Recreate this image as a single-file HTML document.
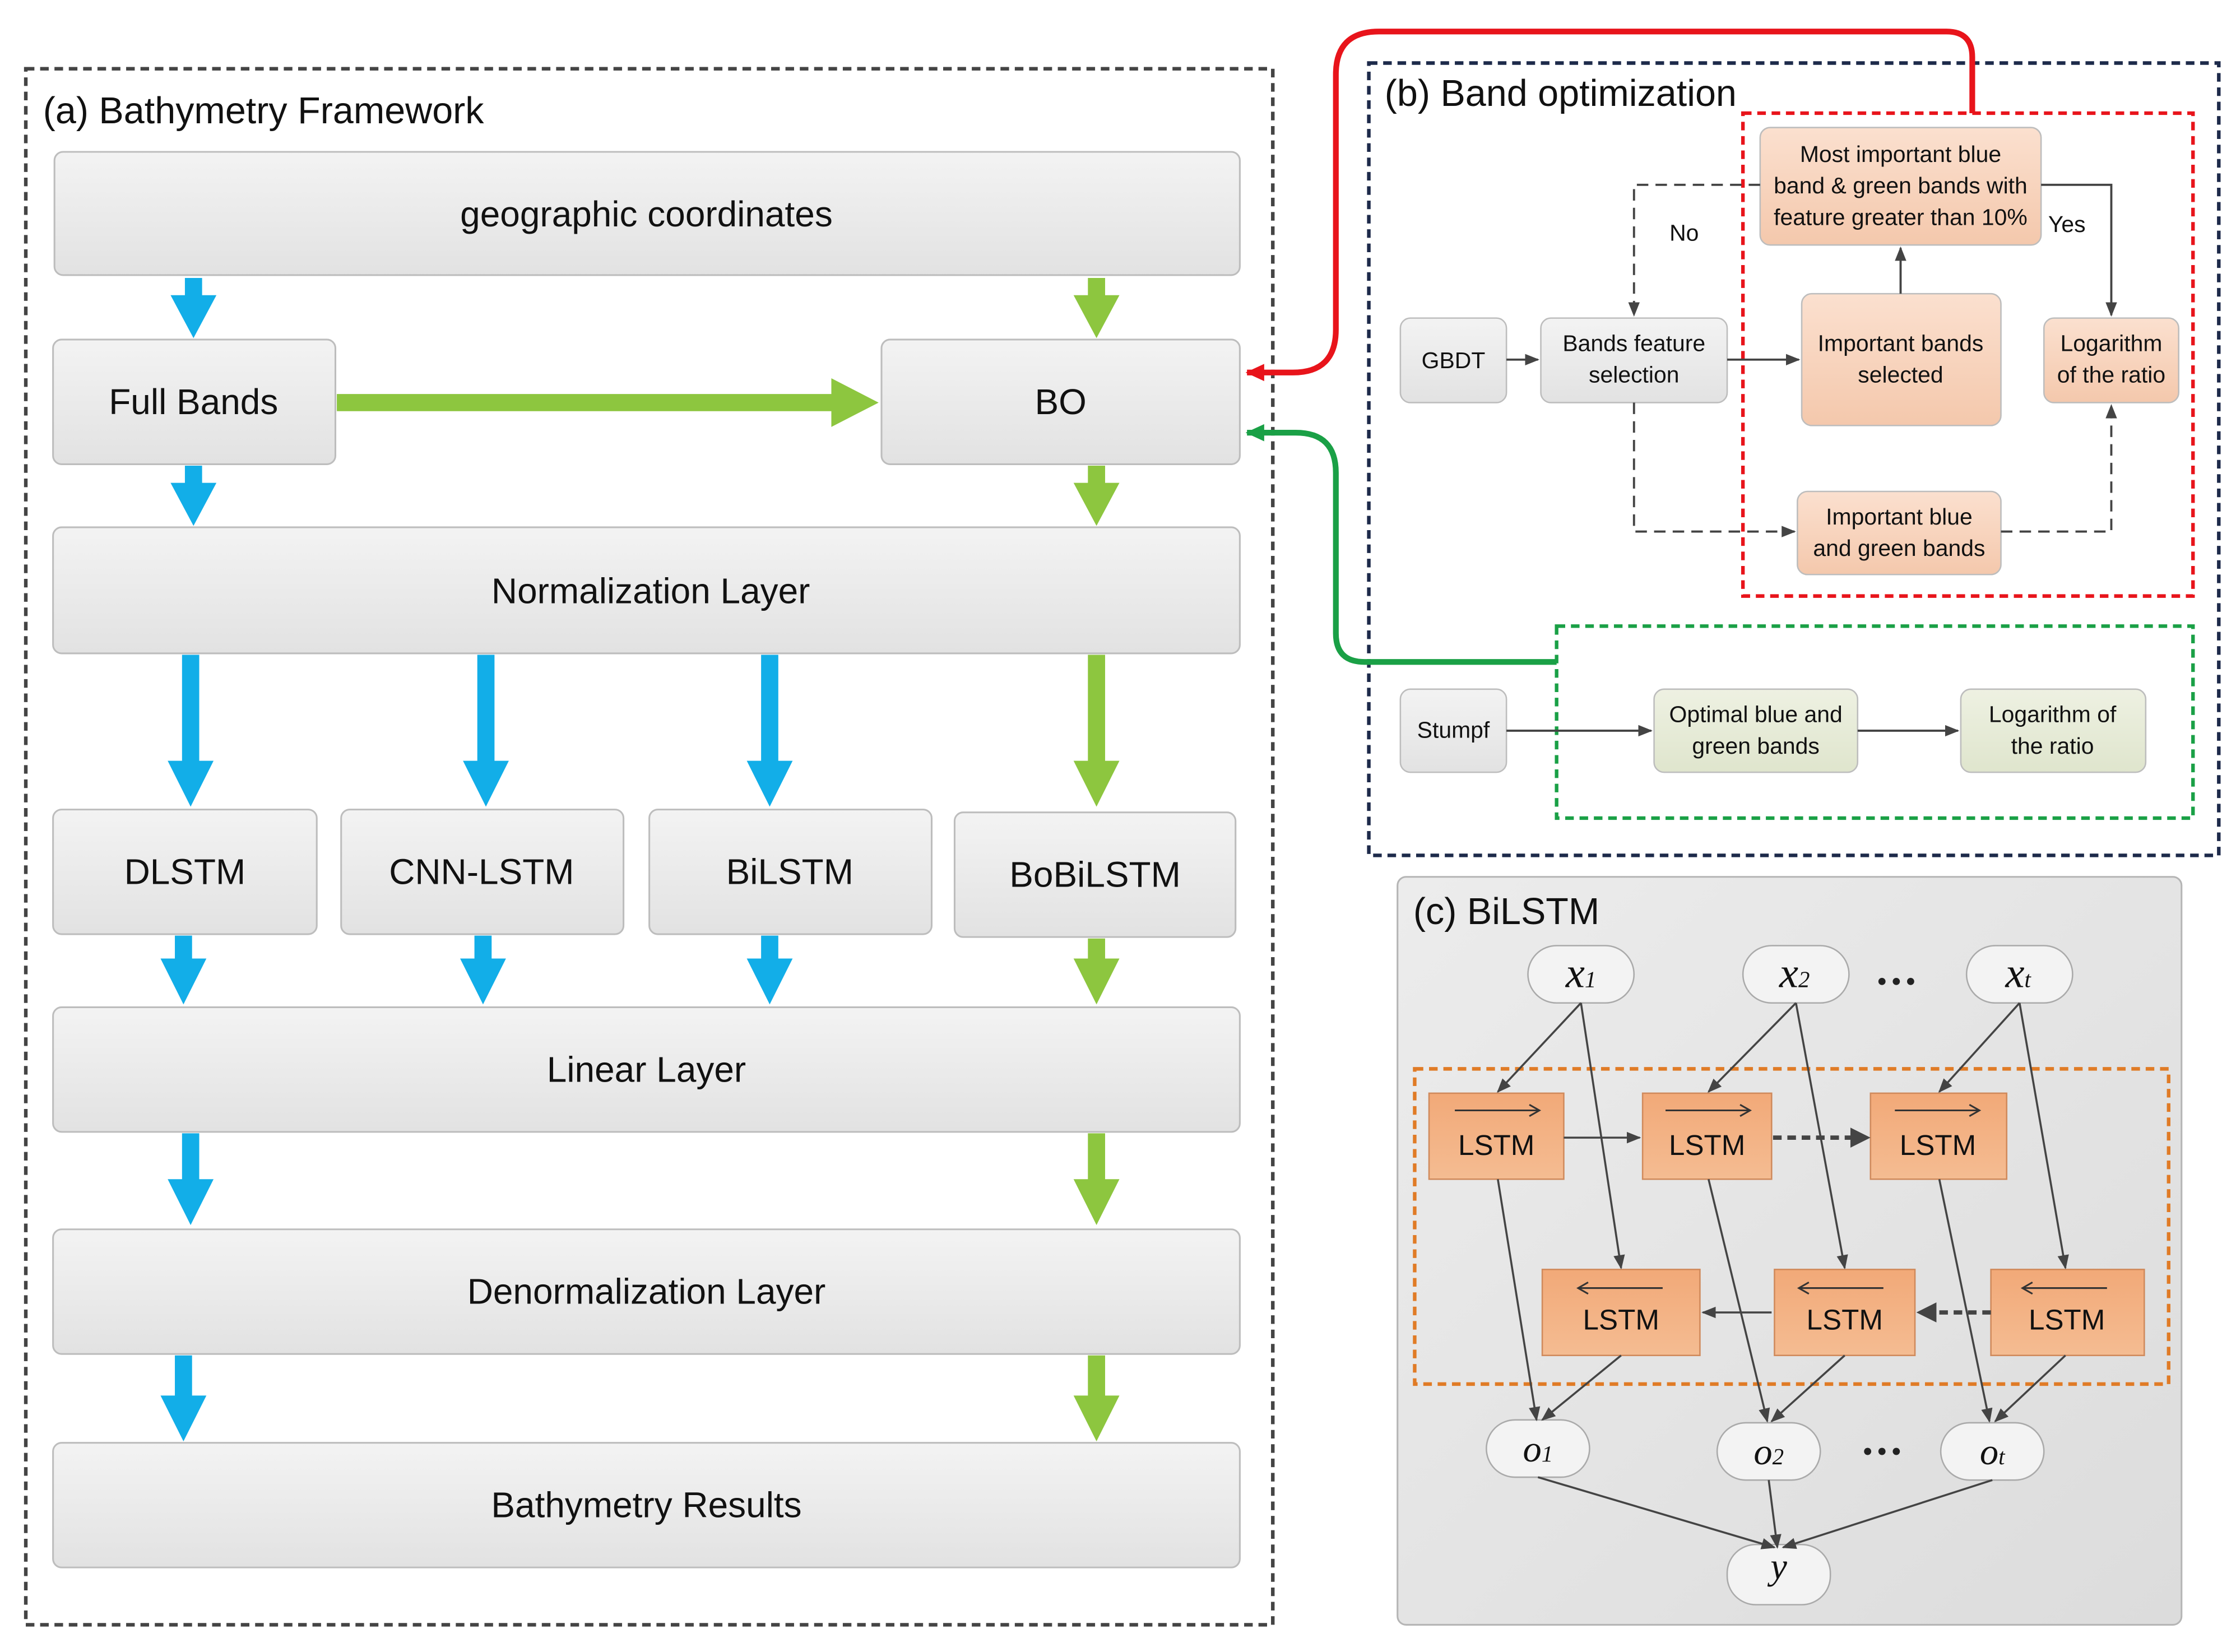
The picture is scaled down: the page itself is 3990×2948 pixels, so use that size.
<!DOCTYPE html>
<html><head><meta charset="utf-8"><style>
html,body{margin:0;padding:0;background:#fff;}
svg{display:block;}
text{font-family:"Liberation Sans",sans-serif;fill:#111;}
</style></head><body>
<svg width="3990" height="2948" viewBox="0 0 1560 1153" preserveAspectRatio="none" xmlns="http://www.w3.org/2000/svg">
<defs>
<linearGradient id="gb" x1="0" y1="0" x2="0" y2="1"><stop offset="0" stop-color="#f3f3f3"/><stop offset="1" stop-color="#e2e2e2"/></linearGradient>
<linearGradient id="pc" x1="0" y1="0" x2="0" y2="1"><stop offset="0" stop-color="#fbe0cf"/><stop offset="1" stop-color="#f4c8ac"/></linearGradient>
<linearGradient id="gr" x1="0" y1="0" x2="0" y2="1"><stop offset="0" stop-color="#eef1e2"/><stop offset="1" stop-color="#dfe5cd"/></linearGradient>
<linearGradient id="cp" x1="0" y1="0" x2="1" y2="1"><stop offset="0" stop-color="#ececec"/><stop offset="1" stop-color="#dcdcdc"/></linearGradient>
<linearGradient id="ls" x1="0" y1="0" x2="0" y2="1"><stop offset="0" stop-color="#f2a978"/><stop offset="1" stop-color="#f4bc92"/></linearGradient>
<marker id="ah" markerWidth="10" markerHeight="10" refX="9" refY="5" orient="auto" markerUnits="userSpaceOnUse"><path d="M0,1 L10,5 L0,9 z" fill="#444"/></marker>
<marker id="ahr" markerWidth="14" markerHeight="14" refX="12" refY="7" orient="auto" markerUnits="userSpaceOnUse"><path d="M0,1 L13,7 L0,13 z" fill="#e8141b"/></marker>
<marker id="ahg" markerWidth="14" markerHeight="14" refX="12" refY="7" orient="auto" markerUnits="userSpaceOnUse"><path d="M0,1 L13,7 L0,13 z" fill="#1aa046"/></marker>
</defs>

<rect x="18" y="48" width="870" height="1086" fill="none" stroke="#444" stroke-width="2.5" stroke-dasharray="6,4"/>
<text x="30" y="86" font-size="26">(a) Bathymetry Framework</text>

<g stroke="#bdbdbd" stroke-width="1.2" fill="url(#gb)">
<rect x="38" y="106" width="827" height="86" rx="6"/>
<rect x="37" y="237" width="197" height="87" rx="6"/>
<rect x="615" y="237" width="250" height="87" rx="6"/>
<rect x="37" y="368" width="828" height="88" rx="6"/>
<rect x="37" y="565" width="184" height="87" rx="6"/>
<rect x="238" y="565" width="197" height="87" rx="6"/>
<rect x="453" y="565" width="197" height="87" rx="6"/>
<rect x="666" y="567" width="196" height="87" rx="6"/>
<rect x="37" y="703" width="828" height="87" rx="6"/>
<rect x="37" y="858" width="828" height="87" rx="6"/>
<rect x="37" y="1007" width="828" height="87" rx="6"/>
</g>
<g font-size="25" text-anchor="middle">
<text x="451" y="158">geographic coordinates</text>
<text x="135" y="289">Full Bands</text>
<text x="740" y="289">BO</text>
<text x="454" y="421">Normalization Layer</text>
<text x="129" y="617">DLSTM</text>
<text x="336" y="617">CNN-LSTM</text>
<text x="551" y="617">BiLSTM</text>
<text x="764" y="619">BoBiLSTM</text>
<text x="451" y="755">Linear Layer</text>
<text x="451" y="910">Denormalization  Layer</text>
<text x="451" y="1059">Bathymetry Results</text>
</g>

<g fill="#12aee8">
<path d="M129,194 h12 v12 h10 l-16,30 l-16,-30 h10 z"/>
<path d="M129,325 h12 v12 h10 l-16,30 l-16,-30 h10 z"/>
<path d="M127,457 h12 v74 h10 l-16,32 l-16,-32 h10 z"/>
<path d="M333,457 h12 v74 h10 l-16,32 l-16,-32 h10 z"/>
<path d="M531,457 h12 v74 h10 l-16,32 l-16,-32 h10 z"/>
<path d="M122,653 h12 v16 h10 l-16,32 l-16,-32 h10 z"/>
<path d="M331,653 h12 v16 h10 l-16,32 l-16,-32 h10 z"/>
<path d="M531,653 h12 v16 h10 l-16,32 l-16,-32 h10 z"/>
<path d="M127,791 h12 v32 h10 l-16,32 l-16,-32 h10 z"/>
<path d="M122,946 h12 v28 h10 l-16,32 l-16,-32 h10 z"/>
</g>
<g fill="#8dc63f">
<path d="M759,194 h12 v12 h10 l-16,30 l-16,-30 h10 z"/>
<path d="M759,325 h12 v12 h10 l-16,30 l-16,-30 h10 z"/>
<path d="M759,457 h12 v74 h10 l-16,32 l-16,-32 h10 z"/>
<path d="M759,655 h12 v14 h10 l-16,32 l-16,-32 h10 z"/>
<path d="M759,791 h12 v32 h10 l-16,32 l-16,-32 h10 z"/>
<path d="M759,946 h12 v28 h10 l-16,32 l-16,-32 h10 z"/>
<path d="M235,275 h345 v-11 l33,17 l-33,17 v-11 h-345 z"/>
</g>

<rect x="955" y="44" width="593" height="553" fill="none" stroke="#1d2a4a" stroke-width="2.5" stroke-dasharray="6,4"/>
<text x="966" y="74" font-size="26">(b) Band optimization</text>
<rect x="1216" y="79" width="314" height="337" fill="none" stroke="#e8141b" stroke-width="2.5" stroke-dasharray="6,4"/>
<rect x="1086" y="437" width="444" height="134" fill="none" stroke="#1aa046" stroke-width="2.5" stroke-dasharray="6,4"/>

<path d="M1376,79 V40 Q1376,22 1358,22 H962 Q932,22 932,52 V230 Q932,260 902,260 H870" fill="none" stroke="#e8141b" stroke-width="4" marker-end="url(#ahr)"/>
<path d="M1086,462 H952 Q932,462 932,442 V330 Q932,302 904,302 H870" fill="none" stroke="#1aa046" stroke-width="4" marker-end="url(#ahg)"/>

<g stroke="#bdbdbd" stroke-width="1">
<rect x="1228" y="89" width="196" height="82" rx="7" fill="url(#pc)"/>
<rect x="977" y="222" width="74" height="59" rx="7" fill="url(#gb)"/>
<rect x="1075" y="222" width="130" height="59" rx="7" fill="url(#gb)"/>
<rect x="1257" y="205" width="139" height="92" rx="7" fill="url(#pc)"/>
<rect x="1426" y="222" width="94" height="59" rx="7" fill="url(#pc)"/>
<rect x="1254" y="343" width="142" height="58" rx="7" fill="url(#pc)"/>
<rect x="977" y="481" width="74" height="58" rx="7" fill="url(#gb)"/>
<rect x="1154" y="481" width="142" height="58" rx="7" fill="url(#gr)"/>
<rect x="1368" y="481" width="129" height="58" rx="7" fill="url(#gr)"/>
</g>
<g font-size="16" text-anchor="middle">
<text x="1326" y="113">Most important blue</text>
<text x="1326" y="135">band &amp; green bands with</text>
<text x="1326" y="157">feature greater than 10%</text>
<text x="1014" y="257">GBDT</text>
<text x="1140" y="245">Bands feature</text>
<text x="1140" y="267">selection</text>
<text x="1326" y="245">Important bands</text>
<text x="1326" y="267">selected</text>
<text x="1473" y="245">Logarithm</text>
<text x="1473" y="267">of the ratio</text>
<text x="1325" y="366">Important blue</text>
<text x="1325" y="388">and green bands</text>
<text x="1014" y="515">Stumpf</text>
<text x="1225" y="504">Optimal blue and</text>
<text x="1225" y="526">green bands</text>
<text x="1432" y="504">Logarithm of</text>
<text x="1432" y="526">the ratio</text>
<text x="1175" y="168">No</text>
<text x="1442" y="162">Yes</text>
</g>
<g stroke="#444" stroke-width="1.5" fill="none">
<path d="M1051,251 H1073" marker-end="url(#ah)"/>
<path d="M1205,251 H1255" marker-end="url(#ah)"/>
<path d="M1326,205 V173" marker-end="url(#ah)"/>
<path d="M1424,129 H1473 V220" marker-end="url(#ah)"/>
<path d="M1228,129 H1140 V220" stroke-dasharray="8,5" marker-end="url(#ah)"/>
<path d="M1140,281 V371 H1252" stroke-dasharray="8,5" marker-end="url(#ah)"/>
<path d="M1396,371 H1473 V283" stroke-dasharray="8,5" marker-end="url(#ah)"/>
<path d="M1051,510 H1152" marker-end="url(#ah)"/>
<path d="M1296,510 H1366" marker-end="url(#ah)"/>
</g>

<rect x="975" y="612" width="547" height="522" rx="6" fill="url(#cp)" stroke="#b5b5b5" stroke-width="1.2"/>
<text x="986" y="645" font-size="26">(c) BiLSTM</text>
<rect x="987" y="746" width="526" height="220" fill="none" stroke="#e07b26" stroke-width="2.5" stroke-dasharray="6,4"/>
<g fill="#f3f3f3" stroke="#aaa" stroke-width="1">
<rect x="1066" y="660" width="74" height="40" rx="20"/>
<rect x="1216" y="660" width="74" height="40" rx="20"/>
<rect x="1372" y="660" width="74" height="40" rx="20"/>
<rect x="1037" y="991" width="72" height="40" rx="20"/>
<rect x="1198" y="993" width="72" height="40" rx="20"/>
<rect x="1354" y="993" width="72" height="40" rx="20"/>
<rect x="1205" y="1078" width="72" height="42" rx="20"/>
</g>
<g font-style="italic" text-anchor="middle">
<text x="1103" y="689" font-size="30" style="font-family:'Liberation Serif',serif">x<tspan font-size="16">1</tspan></text>
<text x="1252" y="689" font-size="30" style="font-family:'Liberation Serif',serif">x<tspan font-size="16">2</tspan></text>
<text x="1408" y="689" font-size="30" style="font-family:'Liberation Serif',serif">x<tspan font-size="16">t</tspan></text>
<text x="1073" y="1020" font-size="26" style="font-family:'Liberation Serif',serif">o<tspan font-size="16">1</tspan></text>
<text x="1234" y="1022" font-size="26" style="font-family:'Liberation Serif',serif">o<tspan font-size="16">2</tspan></text>
<text x="1390" y="1022" font-size="26" style="font-family:'Liberation Serif',serif">o<tspan font-size="16">t</tspan></text>
<text x="1241" y="1102" font-size="26" style="font-family:'Liberation Serif',serif">y</text>
</g>
<g fill="#222">
<circle cx="1313" cy="685" r="2.5"/><circle cx="1323" cy="685" r="2.5"/><circle cx="1333" cy="685" r="2.5"/>
<circle cx="1303" cy="1013" r="2.5"/><circle cx="1313" cy="1013" r="2.5"/><circle cx="1323" cy="1013" r="2.5"/>
</g>
<g fill="url(#ls)" stroke="#d08a5c" stroke-width="1">
<rect x="997" y="763" width="94" height="60"/>
<rect x="1146" y="763" width="90" height="60"/>
<rect x="1305" y="763" width="95" height="60"/>
<rect x="1076" y="886" width="110" height="60"/>
<rect x="1238" y="886" width="98" height="60"/>
<rect x="1389" y="886" width="107" height="60"/>
</g>
<g font-size="20" text-anchor="middle">
<text x="1044" y="806">LSTM</text>
<text x="1191" y="806">LSTM</text>
<text x="1352" y="806">LSTM</text>
<text x="1131" y="928">LSTM</text>
<text x="1287" y="928">LSTM</text>
<text x="1442" y="928">LSTM</text>
</g>
<g stroke="#333" stroke-width="1.2" fill="none">
<path d="M1015,775 H1073 M1067,771 L1074,775 L1067,779"/>
<path d="M1162,775 H1220 M1214,771 L1221,775 L1214,779"/>
<path d="M1322,775 H1380 M1374,771 L1381,775 L1374,779"/>
<path d="M1102,899 H1160 M1108,895 L1101,899 L1108,903"/>
<path d="M1256,899 H1314 M1262,895 L1255,899 L1262,903"/>
<path d="M1412,899 H1470 M1418,895 L1411,899 L1418,903"/>
</g>
<g stroke="#444" stroke-width="1.4" fill="none" marker-end="url(#ah)">
<path d="M1103,700 L1045,762"/>
<path d="M1103,700 L1131,885"/>
<path d="M1253,700 L1192,762"/>
<path d="M1253,700 L1287,885"/>
<path d="M1409,700 L1353,762"/>
<path d="M1409,700 L1441,885"/>
<path d="M1045,823 L1072,991"/>
<path d="M1131,946 L1076,991"/>
<path d="M1192,823 L1233,992"/>
<path d="M1287,946 L1236,992"/>
<path d="M1353,823 L1388,992"/>
<path d="M1441,946 L1392,992"/>
<path d="M1091,794 L1144,794"/>
<path d="M1236,916 L1188,916"/>
<path d="M1073,1031 L1238,1080"/>
<path d="M1234,1033 L1240,1080"/>
<path d="M1390,1033 L1244,1080"/>
</g>
<g stroke="#444" stroke-width="3" fill="none" stroke-dasharray="6,4">
<path d="M1237,794 H1292"/>
<path d="M1389,916 H1350"/>
</g>
<path d="M1305,794 l-14,-7 v14 z" fill="#444"/>
<path d="M1337,916 l14,-7 v14 z" fill="#444"/>
</svg>
</body></html>
